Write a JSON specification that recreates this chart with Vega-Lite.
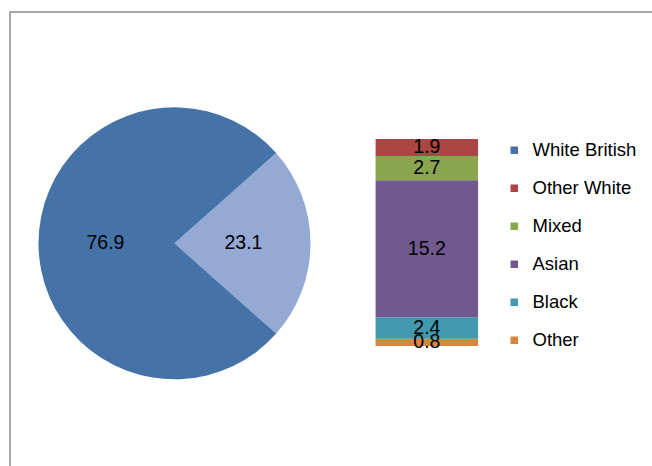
{
  "$schema": "https://vega.github.io/schema/vega-lite/v6.json",
  "autosize": "none",
  "padding": {"left": 10, "top": 12, "right": 0, "bottom": 0},
  "width": 654,
  "height": 460,
  "background": "white",
  "config": {
    "view": {"stroke": "#8a8a8a", "strokeWidth": 1.5},
    "font": "Liberation Sans",
    "text": {"font": "Liberation Sans", "fontSize": 19.5, "color": "#000000"},
    "legend": {"labelFont": "Liberation Sans"}
  },
  "datasets": {
    "pie": [
      {"group": "All other groups", "value": 23.1, "rank": 1},
      {"group": "White British", "value": 76.9, "rank": 2}
    ],
    "bar": [
      {"group": "Other", "value": 0.8, "rank": 1},
      {"group": "Black", "value": 2.4, "rank": 2},
      {"group": "Asian", "value": 15.2, "rank": 3},
      {"group": "Mixed", "value": 2.7, "rank": 4},
      {"group": "Other White", "value": 1.9, "rank": 5}
    ]
  },
  "layer": [
    {
      "data": {"name": "pie"},
      "mark": {"type": "arc", "outerRadius": 136},
      "encoding": {
        "x": {"datum": 0, "type": "quantitative", "axis": null, "scale": {"domain": [-1.58, 4.8], "nice": false, "zero": false}},
        "y": {"datum": 11.4, "type": "quantitative", "axis": null, "scale": {"domain": [-14, 37.1], "nice": false, "zero": false}},
        "theta": {"field": "value", "type": "quantitative", "stack": true, "scale": {"range": [0.8451, 7.1283]}},
        "order": {"field": "rank"},
        "color": {
          "field": "group",
          "type": "nominal",
          "scale": {
            "domain": ["White British", "Other White", "Mixed", "Asian", "Black", "Other", "All other groups"],
            "range": ["#4572A7", "#AA4643", "#89A54E", "#71588F", "#4198AF", "#DB843D", "#94A9D3"]
          },
          "legend": {
            "values": ["White British", "Other White", "Mixed", "Asian", "Black", "Other"],
            "title": null,
            "orient": "none",
            "legendX": 495,
            "legendY": 129,
            "symbolType": "square",
            "symbolSize": 56,
            "symbolStrokeWidth": 0,
            "labelFontSize": 18.5,
            "labelColor": "#000000",
            "labelOffset": 9,
            "rowPadding": 19
          }
        }
      }
    },
    {
      "data": {"name": "pie"},
      "mark": {"type": "text", "radius": 69},
      "encoding": {
        "x": {"datum": 0, "type": "quantitative", "axis": null},
        "y": {"datum": 11.4, "type": "quantitative", "axis": null},
        "theta": {"field": "value", "type": "quantitative", "stack": true},
        "order": {"field": "rank"},
        "text": {"field": "value", "type": "quantitative", "format": ".1f"}
      }
    },
    {
      "data": {"name": "bar"},
      "mark": {"type": "bar", "orient": "vertical", "width": 102.5},
      "encoding": {
        "x": {"datum": 2.5, "type": "quantitative", "axis": null},
        "y": {"field": "value", "type": "quantitative", "stack": "zero", "axis": null},
        "order": {"field": "rank"},
        "color": {"field": "group", "type": "nominal"}
      }
    },
    {
      "data": {"name": "bar"},
      "mark": {"type": "text"},
      "encoding": {
        "x": {"datum": 2.5, "type": "quantitative", "axis": null},
        "y": {"field": "value", "type": "quantitative", "stack": "zero", "bandPosition": 0.5, "axis": null},
        "order": {"field": "rank"},
        "detail": {"field": "group"},
        "text": {"field": "value", "type": "quantitative", "format": ".1f"}
      }
    },
    {
      "mark": {"type": "rule", "color": "#000000", "strokeWidth": 1},
      "encoding": {
        "x": {"datum": 1.0, "type": "quantitative"},
        "y": {"datum": 21.5, "type": "quantitative"},
        "x2": {"datum": 2.0},
        "y2": {"datum": 23.0}
      }
    },
    {
      "mark": {"type": "rule", "color": "#000000", "strokeWidth": 1},
      "encoding": {
        "x": {"datum": 1.0, "type": "quantitative"},
        "y": {"datum": 1.3, "type": "quantitative"},
        "x2": {"datum": 2.0},
        "y2": {"datum": 0.0}
      }
    }
  ]
}
